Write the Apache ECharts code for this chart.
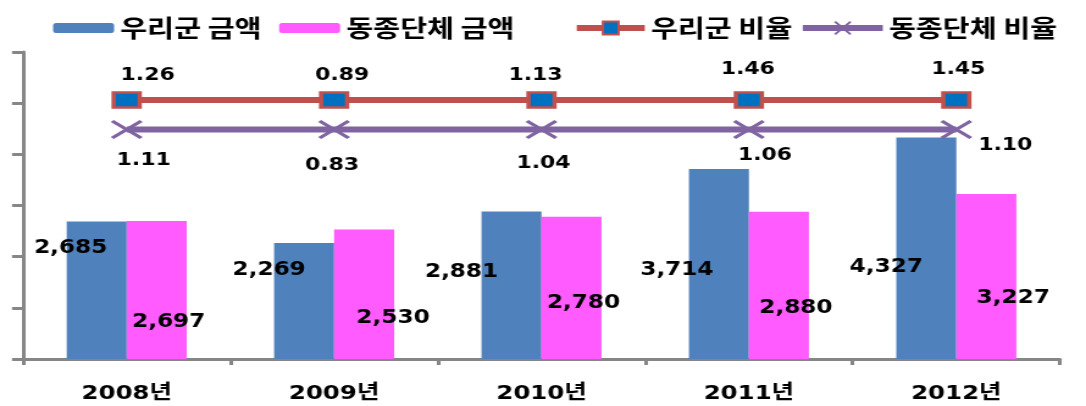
<!DOCTYPE html>
<html><head><meta charset="utf-8">
<script src="https://cdn.jsdelivr.net/npm/echarts@6/dist/echarts.min.js"></script>
<style>
html,body{margin:0;padding:0;background:#fff;overflow:hidden}
#main{width:890px;height:406px;transform:scaleX(1.220225);transform-origin:0 0;}
</style>
</head><body><div id="main"></div>
<script>
// ---- data ----
const categories = ['2008년', '2009년', '2010년', '2011년', '2012년'];
const ourAmount = [2685, 2269, 2881, 3714, 4327];
const peerAmount = [2697, 2530, 2780, 2880, 3227];
const ourRatio = [1.26, 0.89, 1.13, 1.46, 1.45];
const peerRatio = [1.11, 0.83, 1.04, 1.06, 1.10];
const seriesNames = ['우리군 금액', '동종단체 금액', '우리군 비율', '동종단체 비율'];

// ---- style / layout (page is stretched horizontally by S like the reference) ----
const S = 1086 / 890;
const FONT = '"DejaVu Sans", "Noto Sans CJK KR", sans-serif';
const KFONT = '"Noto Sans CJK KR", sans-serif';
// flat drawing tracks for the two ratio lines (the reference draws them flat)
const OUR_TRACK = 5060, PEER_TRACK = 4485;
// label offsets in screen px [dx, dy]
const ourBarLbl = [[-26, 111], [-35, 89], [-50, 87], [-42, 89], [-40, 92]];
const peerBarLbl = [[12, 37], [29, 41], [12, 56], [17, 51], [27, 61]];
const ourRatioLbl = [[21, -25], [8, -25], [-6, -25], [-1, -31], [2, -31]];
const peerRatioLbl = [[17, 31], [-2, 36], [2, 34], [16, 26], [49, 16]];

const fmtNum = v => v.toLocaleString('en-US');
const gray = '#868686';

function barData(vals, offs) {
  return vals.map((v, i) => ({
    value: v,
    label: { offset: [offs[i][0] / S, -offs[i][1]] }
  }));
}
function lineData(track, ratios, offs) {
  return ratios.map((r, i) => ({
    value: track,
    ratio: r,
    label: { offset: [offs[i][0] / S, offs[i][1]] }
  }));
}
const barLabel = {
  show: true, position: 'insideBottom', distance: 0, verticalAlign: 'middle', align: 'center',
  fontFamily: FONT, fontSize: 19, fontWeight: 'bold', color: '#000',
  formatter: p => fmtNum(p.value)
};
const lineLabel = {
  show: true, position: 'inside', align: 'center', verticalAlign: 'middle',
  fontFamily: FONT, fontSize: 18, fontWeight: 'bold', color: '#000',
  formatter: p => p.data.ratio.toFixed(2)
};
const legendBase = {
  top: 11, itemGap: 0, itemHeight: 10,
  lineStyle: { width: 6 },
  textStyle: { fontFamily: KFONT, fontSize: 24, fontWeight: 'bold', color: '#000' }
};

const chart = echarts.init(document.getElementById('main'), null, { renderer: 'canvas' });
chart.setOption({
  animation: false,
  backgroundColor: '#fff',
  legend: [
    Object.assign({}, legendBase, { data: [seriesNames[0]], left: 47 / S, itemWidth: 61 / S }),
    Object.assign({}, legendBase, { data: [seriesNames[1]], left: 273 / S, itemWidth: 61 / S }),
    Object.assign({}, legendBase, { data: [seriesNames[2]], left: 567 / S, itemWidth: 68 / S, itemHeight: 16 }),
    Object.assign({}, legendBase, { data: [seriesNames[3]], left: 793 / S, itemWidth: 80 / S, itemHeight: 16 })
  ],
  grid: { left: 23 / S, right: 26 / S, top: 52, bottom: 47, containLabel: false, outerBoundsMode: 'none' },
  xAxis: {
    type: 'category', data: categories, boundaryGap: true,
    axisLine: { show: true, lineStyle: { color: gray, width: 3 } },
    axisTick: { show: true, length: 6, lineStyle: { color: gray, width: 3 } },
    axisLabel: { fontFamily: FONT, fontSize: 20, fontWeight: 'bold', color: '#000', margin: 25 },
    splitLine: { show: false }
  },
  yAxis: {
    type: 'value', min: 0, max: 6000, interval: 1000,
    axisLine: { show: true, lineStyle: { color: gray, width: 3 } },
    axisTick: { show: true, inside: false, length: 11 / S, lineStyle: { color: gray, width: 3 } },
    axisLabel: { show: false },
    splitLine: { show: false }
  },
  series: [
    {
      name: seriesNames[0], type: 'bar', barWidth: 60 / S, barGap: '0%',
      itemStyle: { color: '#4F81BD' },
      label: barLabel, data: barData(ourAmount, ourBarLbl), z: 2
    },
    {
      name: seriesNames[1], type: 'bar', barWidth: 60 / S, barGap: '0%',
      itemStyle: { color: '#FF5BFF' },
      label: barLabel, data: barData(peerAmount, peerBarLbl), z: 2
    },
    {
      name: seriesNames[2], type: 'line',
      symbol: 'rect', symbolSize: [26 / S, 15],
      itemStyle: { color: '#0070C0', borderColor: '#C0504D', borderWidth: 3 },
      lineStyle: { color: '#C0504D', width: 6 },
      label: lineLabel, data: lineData(OUR_TRACK, ourRatio, ourRatioLbl), z: 5
    },
    {
      name: seriesNames[3], type: 'line',
      symbol: 'path://M0,0L10,10M10,0L0,10', symbolSize: [29 / S, 17],
      itemStyle: { color: '#8064A2', borderColor: '#8064A2', borderWidth: 3 },
      lineStyle: { color: '#8064A2', width: 6 },
      label: lineLabel, data: lineData(PEER_TRACK, peerRatio, peerRatioLbl), z: 4
    }
  ]
});
</script>
</body></html>
